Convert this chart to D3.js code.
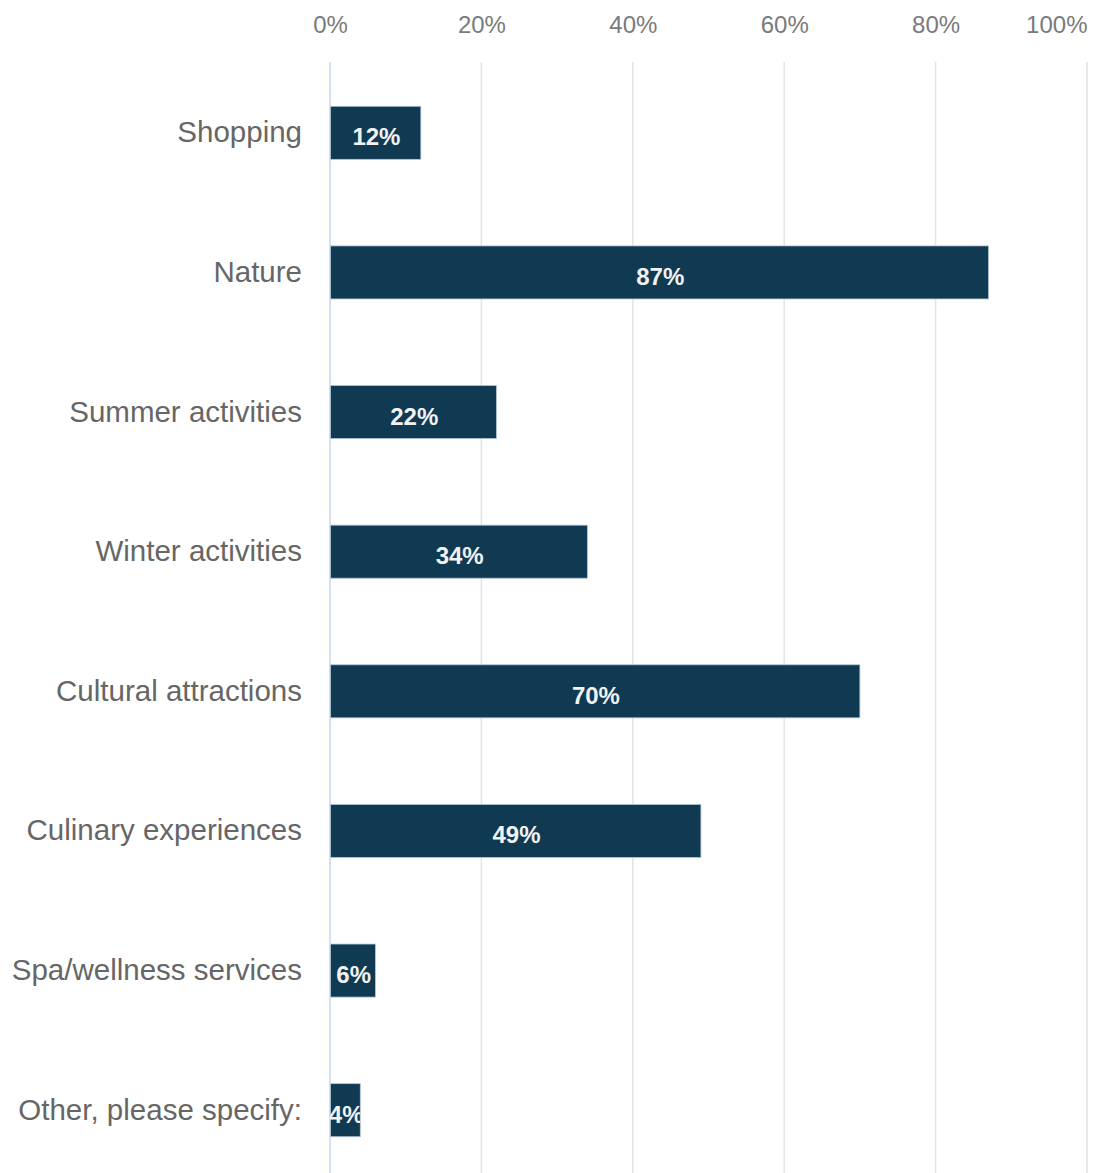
<!DOCTYPE html>
<html>
<head>
<meta charset="utf-8">
<script src="https://cdn.jsdelivr.net/npm/d3@7/dist/d3.min.js"></script>
<style>
  html, body { margin: 0; padding: 0; background: #fff; }
  svg { display: block; font-family: "Liberation Sans", Arial, sans-serif; }
</style>
</head>
<body>
<svg id="chart" width="1096" height="1173"></svg>
<script>
// Activities of interest, share of respondents
const categories = [
  "Shopping",
  "Nature",
  "Summer activities",
  "Winter activities",
  "Cultural attractions",
  "Culinary experiences",
  "Spa/wellness services",
  "Other, please specify:"
];
const values = [12, 87, 22, 34, 70, 49, 6, 4];
const tickValues = [0, 20, 40, 60, 80, 100];

const svg = d3.select("#chart");
const plotLeft = 330, plotRight = 1087, plotTop = 63, plotBottom = 1180;

const x = d3.scaleLinear().domain([0, 100]).range([plotLeft, plotRight]);
const y = d3.scaleBand().domain(categories).range([plotTop, plotBottom]).paddingInner(0.62).paddingOuter(0.31);

// vertical gridlines
svg.append("g")
  .selectAll("line")
  .data(tickValues.slice(1))
  .join("line")
  .attr("x1", d => x(d)).attr("x2", d => x(d))
  .attr("y1", 62).attr("y2", 1173)
  .attr("stroke", "#e3e3e3").attr("stroke-width", 1.5);

// top tick labels; the last one is pulled inside the right edge
const xAxis = d3.axisTop(x).tickValues(tickValues).tickFormat(d => d + "%").tickSize(0).tickPadding(0);
const gx = svg.append("g").attr("transform", "translate(0,33)").call(xAxis);
gx.select(".domain").remove();
gx.selectAll("text")
  .attr("font-size", 24)
  .attr("fill", "#7a7a7a")
  .attr("font-family", "Liberation Sans, Arial, sans-serif")
  .attr("text-anchor", d => d === 100 ? "end" : "middle");

// baseline axis
svg.append("line")
  .attr("x1", x(0)).attr("x2", x(0))
  .attr("y1", 62).attr("y2", 1173)
  .attr("stroke", "#c9d6ef").attr("stroke-width", 1.5);

// category labels
const yAxis = d3.axisLeft(y).tickSize(0).tickPadding(28);
const gy = svg.append("g").attr("transform", `translate(${x(0)},0)`).call(yAxis);
gy.select(".domain").remove();
gy.selectAll("text")
  .attr("font-size", 29.5)
  .attr("fill", "#666")
  .attr("font-family", "Liberation Sans, Arial, sans-serif");

const rows = categories.map((c, i) => ({ c, v: values[i], i }));

// clip paths so value labels stay inside their bars
const defs = svg.append("defs");
defs.selectAll("clipPath")
  .data(rows)
  .join("clipPath")
  .attr("id", d => "clip" + d.i)
  .append("rect")
  .attr("x", x(0))
  .attr("y", d => y(d.c))
  .attr("width", d => x(d.v) - x(0))
  .attr("height", y.bandwidth());

// bars
svg.append("g")
  .selectAll("rect")
  .data(rows)
  .join("rect")
  .attr("x", x(0) + 0.5)
  .attr("y", d => y(d.c))
  .attr("width", d => x(d.v) - x(0) - 0.5)
  .attr("height", y.bandwidth())
  .attr("fill", "#0f3a52")
  .attr("stroke", "#b4c6da")
  .attr("stroke-width", 0.8);

// value labels
svg.append("g")
  .selectAll("text")
  .data(rows)
  .join("text")
  .attr("clip-path", d => `url(#clip${d.i})`)
  .attr("x", d => (x(0) + x(d.v)) / 2 + 1)
  .attr("y", d => y(d.c) + y.bandwidth() / 2 + 4)
  .attr("text-anchor", "middle")
  .attr("dominant-baseline", "central")
  .attr("font-size", 24)
  .attr("font-weight", "bold")
  .attr("fill", "#f2f2f2")
  .text(d => d.v + "%");
</script>
</body>
</html>
